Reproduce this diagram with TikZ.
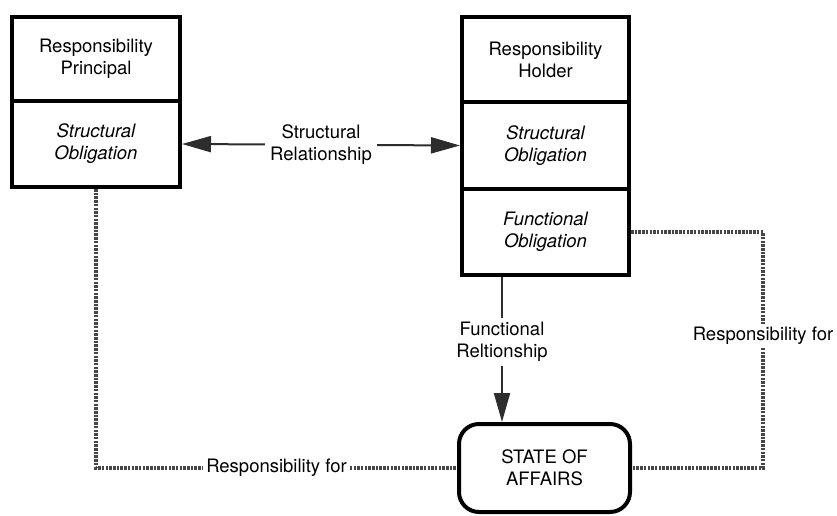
\documentclass[tikz,border=0pt]{standalone}
\usepackage{fontspec}
\setmainfont{TeX Gyre Heros}
\usetikzlibrary{arrows.meta}
\definecolor{linkgray}{RGB}{45,45,45}
\definecolor{dotgray}{RGB}{70,70,70}
\begin{document}
\begin{tikzpicture}[x=1pt,y=-1pt,
  every node/.style={font=\fontsize{18.5}{22}\selectfont, align=center},
  cell/.style={draw=black, line width=4pt, rectangle, inner sep=2pt},
  stateblock/.style={draw=black, line width=4pt, rectangle, rounded corners=20pt, inner sep=2pt},
  relarrow/.style={draw=linkgray, line width=2pt, -{Triangle[length=29pt,width=16pt]}},
  resp/.style={draw=dotgray, line width=3.5pt, dash pattern=on 2.5pt off 1.2pt},
  gaplabel/.style={fill=white, inner sep=4pt}
]
\useasboundingbox (0,0) rectangle (837,516);

% Responsibility principal
\node[cell, minimum width=168pt, minimum height=84pt] (lrp) at (96,59) {Responsibility\\Principal};
\node[cell, minimum width=168pt, minimum height=86pt] (lso) at (96,144) {\itshape Structural\\\itshape Obligation};

% Responsibility holder
\node[cell, minimum width=167pt, minimum height=85pt] (rrh) at (545.5,59.5) {Responsibility\\Holder};
\node[cell, minimum width=167pt, minimum height=87pt] (rso) at (545.5,145.5) {\itshape Structural\\\itshape Obligation};
\node[cell, minimum width=167pt, minimum height=86pt] (rfo) at (545.5,232) {\itshape Functional\\\itshape Obligation};

% State of affairs
\node[stateblock, minimum width=171pt, minimum height=88pt] (soa) at (544.5,468) {STATE OF\\AFFAIRS};

% Structural relationship (both ways)
\draw[relarrow, {Triangle[length=29pt,width=16pt]}-{Triangle[length=29pt,width=16pt]}]
  (lso.east) -- node[gaplabel, inner sep=5pt] {Structural\\Relationship} (rso.west);

% Functional relationship, set left of the box centres
\coordinate (fx) at (502,0);
\draw[relarrow] (rfo.south -| fx) -- node[gaplabel, pos=0.45] {Functional\\Reltionship} (soa.north -| fx);

% Responsibility links
\coordinate (rcorner) at (763,232);
\draw[resp] (lso.south) |- node[gaplabel, pos=0.75, inner sep=3pt] {Responsibility for} (soa.west);
\draw[resp] (rfo.east) -- (rcorner) |- node[gaplabel, pos=0.22, inner sep=3pt] {Responsibility for} (soa.east);
\end{tikzpicture}
\end{document}
